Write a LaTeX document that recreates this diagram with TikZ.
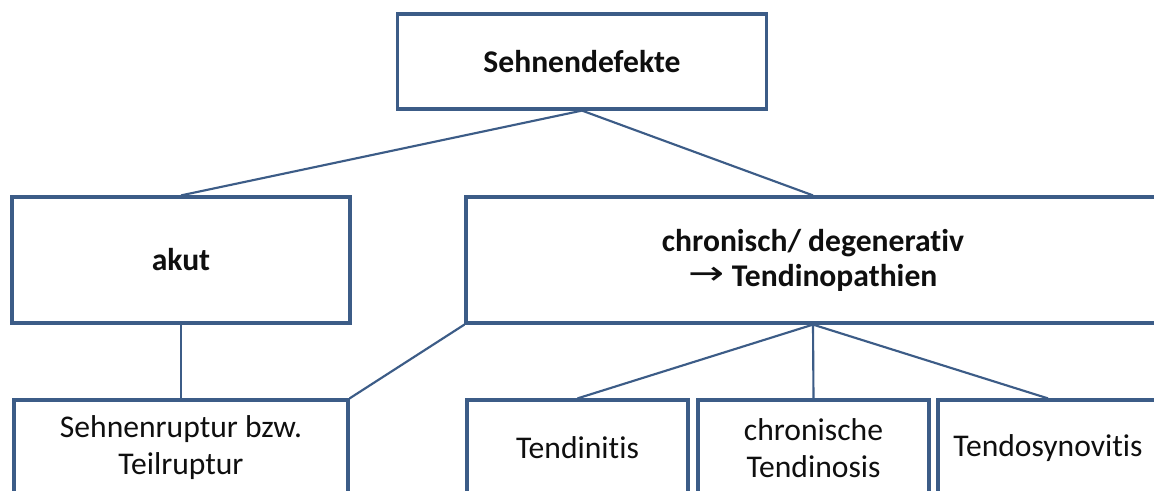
\documentclass[tikz,border=0pt]{standalone}
\usepackage{fontspec}
\usepackage{graphicx}
\setmainfont{Carlito}[Ligatures=NoCommon]
\newfontfamily\arrowfont{DejaVu Sans}
\definecolor{boxline}{RGB}{60,92,135}
\definecolor{txt}{RGB}{15,15,15}
\begin{document}
\begin{tikzpicture}[x=0.75pt,y=-0.75pt,
  box/.style={draw=boxline,line width=2.4pt,fill=white,rectangle,inner sep=0pt,
    align=center,text=txt,font=\fontsize{23.7}{27.75}\selectfont},
  boldbox/.style={box,font=\fontsize{23.7}{26.25}\selectfont\bfseries},
  link/.style={draw=boxline,line width=1.6pt}]
\clip (0,0) rectangle (1154,491);
\fill[white] (0,0) rectangle (1154,491);
\node[boldbox,minimum width=276.75pt,minimum height=71.25pt] (top) at (582,61.5) {Sehnendefekte};
\node[boldbox,minimum width=253.5pt,minimum height=94.5pt] (akut) at (181,260) {akut};
\node[boldbox,minimum width=520.5pt,minimum height=94.5pt] (chron) at (813,260)
  {chronisch/ degenerativ\\{\arrowfont\mdseries\fontsize{17}{20}\selectfont\raisebox{1pt}{\scalebox{1.9}[1.45]{→}}} Tendinopathien};
\node[box,minimum width=250.5pt,minimum height=72pt] (rupt) at (181,448) {Sehnenruptur bzw.\\Teilruptur};
\node[box,minimum width=165.75pt,minimum height=72pt] (itis) at (577.5,448) {Tendinitis};
\node[box,minimum width=173.25pt,minimum height=72pt] (osis) at (813.5,448) {chronische\\Tendinosis};
\node[box,minimum width=165pt,minimum height=72pt] (syn) at (1048,448) {Tendosynovitis};
\draw[link] (top.south) -- (akut.north);
\draw[link] (top.south) -- (chron.north);
\draw[link] (akut.south) -- (rupt.north);
\draw[link] (chron.south west) -- (rupt.north east);
\draw[link] (chron.south) -- (itis.north);
\draw[link] (chron.south) -- (osis.north);
\draw[link] (chron.south) -- (syn.north);
\end{tikzpicture}
\end{document}
